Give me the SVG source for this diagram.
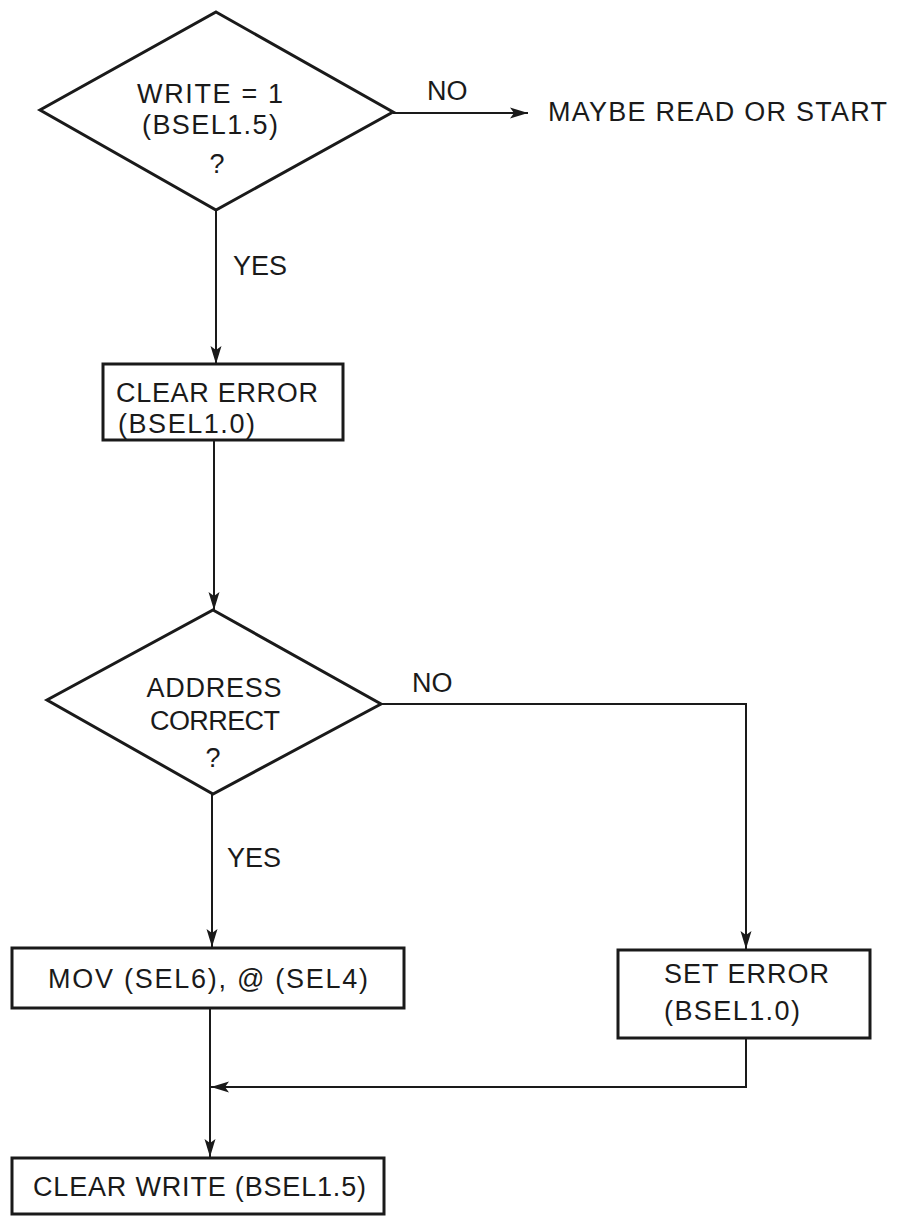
<svg xmlns="http://www.w3.org/2000/svg" width="901" height="1217" viewBox="0 0 901 1217">
  <style>
    .shape { fill: #ffffff; stroke: #1a1a1a; stroke-width: 3; stroke-linejoin: miter; }
    .wire { fill: none; stroke: #1a1a1a; stroke-width: 2; }
    .lbl { font-family: "Liberation Sans", Arial, sans-serif; font-size: 27px; fill: #1a1a1a; }
    .mid { text-anchor: middle; }
  </style>
  <defs>
    <marker id="arrow" markerUnits="userSpaceOnUse" markerWidth="20" markerHeight="12" refX="18" refY="6" orient="auto">
      <path d="M0,0.5 L18,6 L0,11.5 L4,6 Z" fill="#1a1a1a"/>
    </marker>
  </defs>
  <rect width="901" height="1217" fill="#ffffff"/>

  <!-- connectors -->
  <g id="connectors">
    <line class="wire" x1="393" y1="113" x2="528" y2="113" marker-end="url(#arrow)"/>
    <text class="lbl" x="427" y="100">NO</text>
    <line class="wire" x1="216" y1="210" x2="216" y2="364" marker-end="url(#arrow)"/>
    <text class="lbl" x="233" y="275">YES</text>
    <line class="wire" x1="214" y1="440" x2="214" y2="610" marker-end="url(#arrow)"/>
    <polyline class="wire" points="381,704 746,704 746,949" marker-end="url(#arrow)"/>
    <text class="lbl" x="412" y="692">NO</text>
    <line class="wire" x1="212" y1="794" x2="212" y2="947" marker-end="url(#arrow)"/>
    <text class="lbl" x="227" y="867">YES</text>
    <line class="wire" x1="210" y1="1008" x2="210" y2="1157" marker-end="url(#arrow)"/>
    <polyline class="wire" points="746,1038 746,1087 211,1087" marker-end="url(#arrow)"/>
  </g>

  <!-- decision: write flag -->
  <g id="node-write">
    <polygon class="shape" points="216,12 393,112 216,210 40,110"/>
    <text class="lbl mid" x="210" y="103" textLength="146">WRITE = 1</text>
    <text class="lbl mid" x="210" y="134" textLength="136">(BSEL1.5)</text>
    <text class="lbl mid" x="217" y="173">?</text>
  </g>

  <!-- off-page exit -->
  <g id="node-maybe">
    <text class="lbl" x="548" y="121" textLength="339">MAYBE READ OR START</text>
  </g>

  <!-- clear error -->
  <g id="node-clear-error">
    <rect class="shape" x="103" y="364" width="240" height="76"/>
    <text class="lbl" x="116" y="402" textLength="202">CLEAR ERROR</text>
    <text class="lbl" x="118" y="433" textLength="137">(BSEL1.0)</text>
  </g>

  <!-- decision: address check -->
  <g id="node-address">
    <polygon class="shape" points="213,610 381,704 213,794 47,700"/>
    <text class="lbl mid" x="214" y="697" textLength="135">ADDRESS</text>
    <text class="lbl mid" x="215" y="730" textLength="130">CORRECT</text>
    <text class="lbl mid" x="213" y="767">?</text>
  </g>

  <!-- move data -->
  <g id="node-mov">
    <rect class="shape" x="12" y="948" width="392" height="60"/>
    <text class="lbl" x="48" y="988" textLength="320">MOV (SEL6), @ (SEL4)</text>
  </g>

  <!-- set error -->
  <g id="node-set-error">
    <rect class="shape" x="618" y="950" width="252" height="88"/>
    <text class="lbl" x="664" y="983" textLength="165">SET ERROR</text>
    <text class="lbl" x="664" y="1020" textLength="136">(BSEL1.0)</text>
  </g>

  <!-- clear write -->
  <g id="node-clear-write">
    <rect class="shape" x="12" y="1158" width="372" height="56"/>
    <text class="lbl" x="33" y="1196" textLength="333">CLEAR WRITE (BSEL1.5)</text>
  </g>
</svg>
